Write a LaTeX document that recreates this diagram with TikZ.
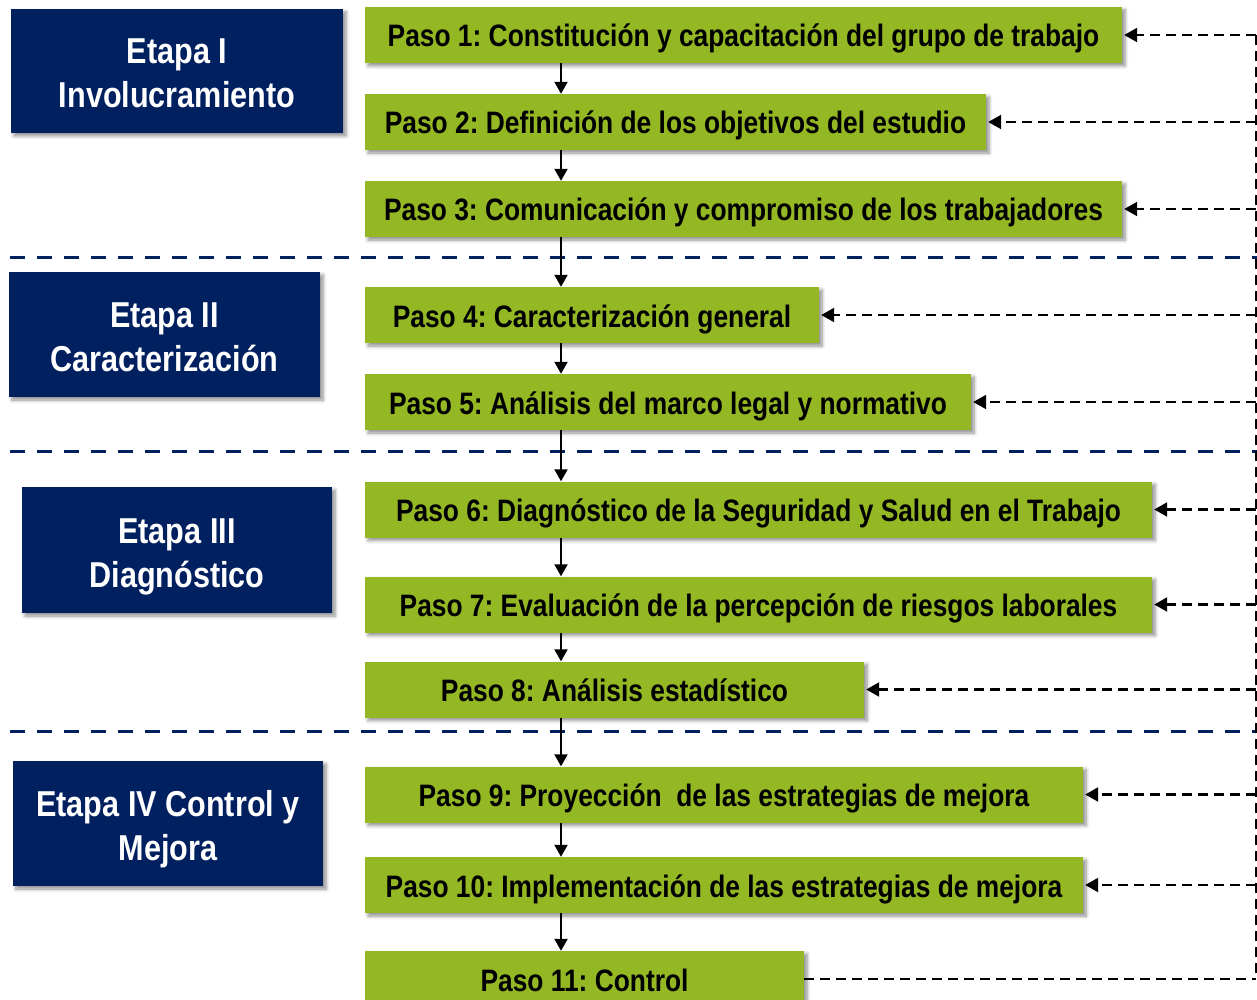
\documentclass[tikz,border=0pt]{standalone}
\usepackage{fontspec}
\setmainfont{Liberation Sans}[FakeStretch=0.85]
\usetikzlibrary{arrows.meta,shadows.blur}
\definecolor{stepgreen}{RGB}{148,183,36}
\definecolor{stagenavy}{RGB}{0,32,96}
% two centred lines with fixed first-line height and last-line depth
\newcommand\stagelines[2]{\rule{0pt}{39pt}#1\\#2\rule[-9pt]{0pt}{9pt}}
\frenchspacing
\begin{document}
\begin{tikzpicture}[x=1pt,y=-1pt,
  softshadow/.style={blur shadow={shadow xshift=3pt, shadow yshift=-3pt,
      shadow blur radius=3.5pt, shadow blur steps=6, shadow opacity=45}},
  stepbox/.style={fill=stepgreen, inner sep=0pt, minimum height=56pt,
      text height=26pt, text depth=2pt, text=black,
      font=\fontsize{31}{36}\selectfont\bfseries, softshadow},
  stagebox/.style={fill=stagenavy, text=white, align=center, inner sep=0pt,
      font=\fontsize{36}{44}\selectfont\bfseries, softshadow},
  flow/.style={line width=2pt, -{Triangle[width=13pt,length=12pt]}},
  back/.style={line width=2.2pt, dash pattern=on 10pt off 6pt,
      -{Triangle[width=14pt,length=13pt]}},
  railline/.style={line width=2.2pt, dash pattern=on 10pt off 6pt},
  divider/.style={stagenavy, line width=3pt, dash pattern=on 15pt off 12pt}]

\useasboundingbox (0,0) rectangle (1257,1000);

% stage separators
\draw[divider] (10,257) -- (1257,257);
\draw[divider] (10,451) -- (1257,451);
\draw[divider] (10,731) -- (1257,731);

% stages
\node[stagebox, minimum width=332pt, minimum height=124pt] (e1) at (177,71)
  {\stagelines{Etapa I}{Involucramiento}};
\node[stagebox, minimum width=311pt, minimum height=125pt] (e2) at (164.5,334.5)
  {\stagelines{Etapa II}{Caracterización}};
\node[stagebox, minimum width=310pt, minimum height=126pt] (e3) at (177,550)
  {\stagelines{Etapa III}{Diagnóstico}};
\node[stagebox, minimum width=310pt, minimum height=125pt] (e4) at (168,823.5)
  {\stagelines{Etapa IV Control y}{Mejora}};

% steps
\node[stepbox, minimum width=757pt] (p1) at (743.5,35)
  {Paso 1: Constitución y capacitación del grupo de trabajo};
\node[stepbox, minimum width=621pt] (p2) at (675.5,122)
  {Paso 2: Definición de los objetivos del estudio};
\node[stepbox, minimum width=757pt] (p3) at (743.5,209)
  {Paso 3: Comunicación y compromiso de los trabajadores};
\node[stepbox, minimum width=454pt] (p4) at (592,315)
  {Paso 4: Caracterización general};
\node[stepbox, minimum width=606pt] (p5) at (668,402)
  {Paso 5: Análisis del marco legal y normativo};
\node[stepbox, minimum width=787pt] (p6) at (758.5,509.5)
  {Paso 6: Diagnóstico de la Seguridad y Salud en el Trabajo};
\node[stepbox, minimum width=787pt] (p7) at (758.5,604.5)
  {Paso 7: Evaluación de la percepción de riesgos laborales};
\node[stepbox, minimum width=499pt] (p8) at (614.5,689.5)
  {Paso 8: Análisis estadístico};
\node[stepbox, minimum width=718pt] (p9) at (724,794.5)
  {Paso 9: Proyección\ \ de las estrategias de mejora};
\node[stepbox, minimum width=718pt] (p10) at (724,885)
  {Paso 10: Implementación de las estrategias de mejora};
\node[stepbox, minimum width=439pt] (p11) at (584.5,979)
  {Paso 11: Control};

% main sequence
\coordinate (spine) at (561,0);
\foreach \a/\b in {p1/p2,p2/p3,p3/p4,p4/p5,p5/p6,p6/p7,p7/p8,p8/p9,p9/p10,p10/p11}
  \draw[flow] (\a.south -| spine) -- (\b.north -| spine);

% feedback rail
\coordinate (rail) at (1256,0);
\draw[railline] (p1.east -| rail) -- (p11.east -| rail);
\foreach \s in {p1,p2,p3,p4,p5,p6,p7,p8,p9,p10}
  \draw[back] (\s.east -| rail) -- ([xshift=2pt]\s.east);
\draw[railline] (p11.east) -- (p11.east -| rail);
\end{tikzpicture}
\end{document}
